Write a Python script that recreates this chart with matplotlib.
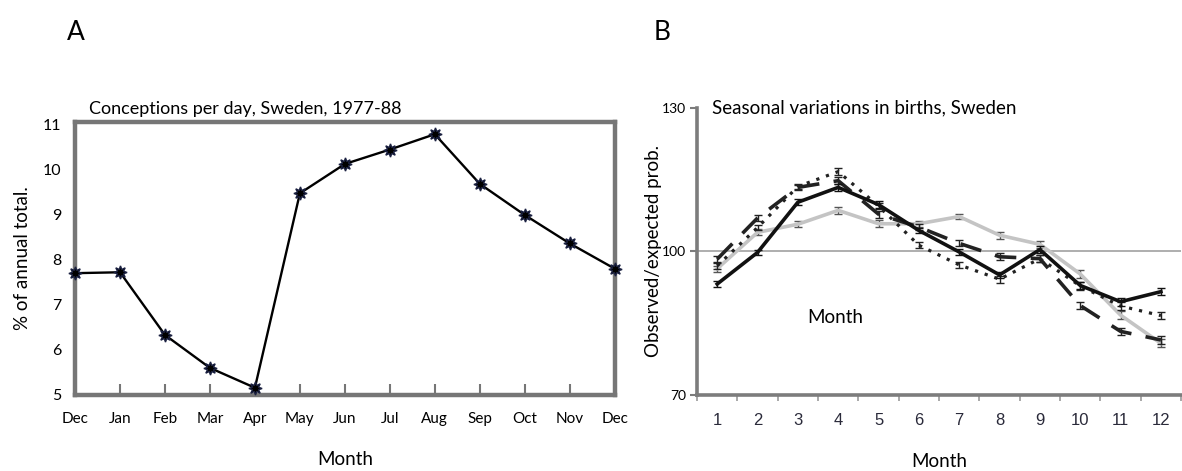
import numpy as np
import matplotlib
matplotlib.use("Agg")
import matplotlib.pyplot as plt

plt.rcParams['font.family'] = ['Lato', 'DejaVu Sans']

# panel A: conceptions per day
months_a = ['Dec', 'Jan', 'Feb', 'Mar', 'Apr', 'May', 'Jun',
            'Jul', 'Aug', 'Sep', 'Oct', 'Nov', 'Dec']
conceptions = [7.70, 7.72, 6.33, 5.60, 5.16, 9.47, 10.12,
               10.44, 10.78, 9.68, 8.99, 8.36, 7.80]

# panel B: observed/expected births, four series with error bars
months_b = [1, 2, 3, 4, 5, 6, 7, 8, 9, 10, 11, 12]
solid_black = [93.2, 99.8, 110.3, 113.4, 109.8, 104.4, 99.9, 95.1, 100.4, 92.9, 89.5, 91.6]
solid_gray = [96.4, 104.0, 105.7, 108.6, 105.8, 105.8, 107.3, 103.4, 101.5, 95.3, 86.7, 80.8]
dashed_black = [98.4, 107.0, 113.4, 114.8, 107.8, 105.1, 101.7, 98.9, 98.5, 88.7, 83.3, 81.5]
dotted_black = [97.0, 105.0, 113.6, 116.7, 109.5, 101.3, 97.2, 94.2, 98.5, 92.8, 88.6, 86.6]
err_b = [0.6, 0.6, 0.6, 0.7, 0.7, 0.6, 0.6, 0.7, 0.7, 0.8, 0.8, 0.8]

fig = plt.figure(figsize=(11.82, 4.71), dpi=100)

###<<< panel A >>>
axa = fig.add_axes([0.0635, 0.1614, 0.4565, 0.5795])
x_a = np.arange(len(months_a))
axa.plot(x_a, conceptions, color='black', lw=1.7, marker=(8, 1, 0),
         markersize=9.5, markerfacecolor='black', markeredgecolor='#1a2040',
         clip_on=False, zorder=3)
axa.set_xlim(0, 12)
axa.set_ylim(5, 11.05)
axa.set_yticks([5, 6, 7, 8, 9, 10, 11])
axa.set_xticks(x_a)
axa.set_xticklabels(months_a)
for sp in axa.spines.values():
    sp.set_color('#767676')
    sp.set_linewidth(3.2)
axa.tick_params(axis='x', direction='in', length=8, width=1.5, color='#767676',
                labelsize=11, pad=12)
axa.tick_params(axis='y', length=0, labelsize=11.5, pad=10)
axa.set_ylabel('% of annual total.', fontsize=13.5, labelpad=8)
axa.set_xlabel('Month', fontsize=13.5, labelpad=18)
axa.set_title('Conceptions per day, Sweden, 1977-88', fontsize=13,
              loc='left', x=0.025, pad=6)
fig.text(0.057, 0.93, 'A', fontsize=19, ha='left', va='center')

###<<< panel B >>>
axb = fig.add_axes([0.5897, 0.1614, 0.4095, 0.6093])
axb.axhline(100, color='#a8a8a8', lw=1.3, zorder=1)
axb.errorbar(months_b, solid_gray, yerr=err_b, color='#c4c4c4', lw=2.6,
             capsize=3, ecolor='#555555', elinewidth=1, zorder=2)
axb.errorbar(months_b, dotted_black, yerr=err_b, color='#222222', lw=2.3,
             linestyle=(0, (1, 2.2)), capsize=3, elinewidth=1, zorder=3)
axb.errorbar(months_b, dashed_black, yerr=err_b, color='#222222', lw=2.6,
             linestyle=(0, (6, 4)), capsize=3, elinewidth=1, zorder=3)
axb.errorbar(months_b, solid_black, yerr=err_b, color='#111111', lw=2.6,
             capsize=3, elinewidth=1, zorder=4)
axb.set_xlim(0.5, 12.5)
axb.set_ylim(70, 130)
axb.set_yticks([70, 100, 130])
axb.set_xticks(months_b)
axb.set_xticks(np.arange(0.5, 13, 1), minor=True)
for side in ['top', 'right']:
    axb.spines[side].set_visible(False)
for side in ['left', 'bottom']:
    axb.spines[side].set_color('#7c7c7c')
    axb.spines[side].set_linewidth(2.6)
axb.tick_params(axis='x', which='major', length=0, pad=13, labelsize=12,
                labelcolor='#2a2a3a')
axb.tick_params(axis='x', which='minor', length=4, width=1.2, color='#9a9a9a')
axb.tick_params(axis='y', length=5, width=1.5, color='#7c7c7c', labelsize=10, pad=3)
for lab in axb.get_xticklabels():
    lab.set_family(['Liberation Sans', 'DejaVu Sans'])
axb.set_ylabel('Observed/expected prob.', fontsize=13.5, labelpad=0)
axb.set_xlabel('Month', fontsize=13.5, labelpad=18)
axb.text(0.285, 0.27, 'Month', transform=axb.transAxes, fontsize=13.5,
         ha='center', va='center')
axb.text(0.03, 1.0, 'Seasonal variations in births, Sweden', transform=axb.transAxes,
         fontsize=13.5, ha='left', va='center')
fig.text(0.553, 0.93, 'B', fontsize=19, ha='left', va='center')

plt.savefig('out.png', dpi=100)
